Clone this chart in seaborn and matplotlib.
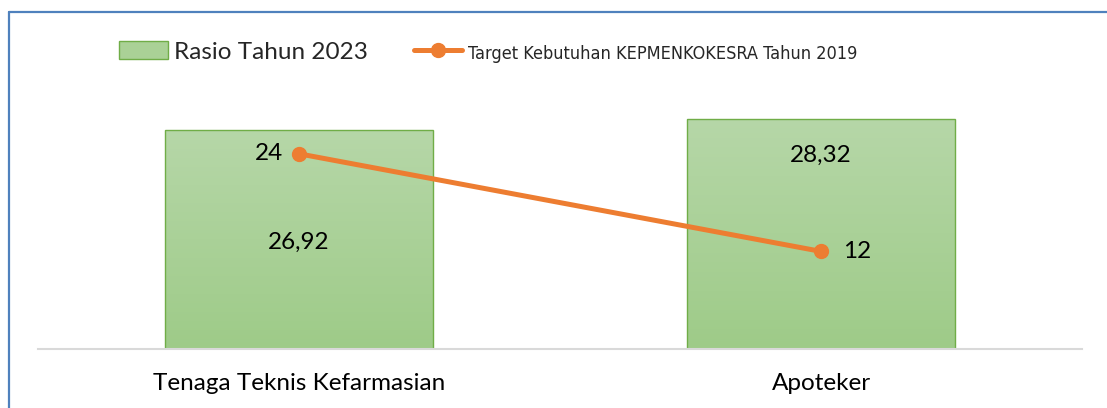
import numpy as np
import pandas as pd
import matplotlib
matplotlib.use("Agg")
import matplotlib.pyplot as plt
from matplotlib import font_manager
from matplotlib.patches import Patch
from matplotlib.lines import Line2D
import seaborn as sns

categories = ["Tenaga Teknis Kefarmasian", "Apoteker"]
rasio_2023 = [26.92, 28.32]
target_2019 = [24, 12]
series_bar = "Rasio Tahun 2023"
series_line = "Target Kebutuhan KEPMENKOKESRA Tahun 2019"

sns.set_theme(style="white")
plt.rcParams["font.family"] = ["Lato", "DejaVu Sans"]

FS = 17.5
ORANGE = "#ED7D31"
EDGE = "#70AD47"
TOP_C = np.array([0xB6, 0xD7, 0xA8]) / 255
BOT_C = np.array([0x9E, 0xCB, 0x88]) / 255

# find a condensed sans face if one exists
def _stretch_val(s):
    if isinstance(s, (int, float)):
        return s
    table = {"ultra-condensed": 100, "extra-condensed": 200, "condensed": 300,
             "semi-condensed": 400, "normal": 500}
    return table.get(str(s), 500)

narrow_prop = None
cands = [f for f in font_manager.fontManager.ttflist
         if _stretch_val(f.stretch) <= 400 and f.style == "normal"
         and ("Sans" in f.name or f.name in ("Roboto", "Open Sans", "Lato", "Inter"))
         and f.weight in (400, "normal", "regular", "book")]
cands.sort(key=lambda f: _stretch_val(f.stretch), reverse=True)
if cands:
    narrow_prop = font_manager.FontProperties(fname=cands[0].fname)

fig = plt.figure(figsize=(11.07, 4.08), dpi=100)
ax = fig.add_axes([38 / 1107, 59 / 408, (1082 - 38) / 1107, (349 - 105) / 408])

df = pd.DataFrame({"cat": categories, "val": rasio_2023})
sns.barplot(data=df, x="cat", y="val", ax=ax, color=BOT_C, width=0.512,
            edgecolor=EDGE, linewidth=1.0, saturation=1)
ax.set_xlim(-0.5, 1.5)
ax.set_ylim(0, 30)

# gradient fill
grad = np.linspace(0, 1, 256)[:, None, None]
img = TOP_C[None, None, :] * (1 - grad) + BOT_C[None, None, :] * grad
for p in list(ax.patches):
    x0, y0 = p.get_x(), p.get_y()
    w, h = p.get_width(), p.get_height()
    p.set_facecolor("none")
    im = ax.imshow(img, extent=[x0, x0 + w, y0, y0 + h], aspect="auto",
                   origin="upper", zorder=1.5)
    im.set_clip_path(p)
    p.set_zorder(2)

xs = np.arange(len(categories))
ax.plot(xs, target_2019, color=ORANGE, lw=3.6, marker="o", ms=10, zorder=4,
        solid_capstyle="round")

def fmt(v):
    s = f"{v:.2f}" if v != int(v) else f"{int(v)}"
    return s.replace(".", ",")

# bar labels
ax.text(xs[0], rasio_2023[0] / 2 - 0.3, fmt(rasio_2023[0]), ha="center", va="center", fontsize=FS, color="black", zorder=5)
ax.text(xs[1], rasio_2023[1] - 4.45, fmt(rasio_2023[1]), ha="center", va="center", fontsize=FS, color="black", zorder=5)
# line labels
ax.annotate(fmt(target_2019[0]), (xs[0], target_2019[0]), xytext=(-11.5, 0), textcoords="offset points",
            ha="right", va="center", fontsize=FS, color="black", zorder=5)
ax.annotate(fmt(target_2019[1]), (xs[1], target_2019[1]), xytext=(16, 0), textcoords="offset points",
            ha="left", va="center", fontsize=FS, color="black", zorder=5)

for s in ["top", "left", "right"]:
    ax.spines[s].set_visible(False)
ax.spines["bottom"].set_color("#D9D9D9")
ax.spines["bottom"].set_linewidth(1.5)
ax.set_yticks([])
ax.set_xlabel("")
ax.set_ylabel("")
ax.tick_params(axis="x", length=0, pad=17, labelsize=FS, colors="black")

handles = [Patch(facecolor="#AAD196", edgecolor=EDGE, linewidth=1.0),
           Line2D([0], [0], color=ORANGE, lw=3.6, marker="o", ms=10)]
leg = fig.legend(handles, [series_bar, series_line], ncol=2, frameon=False,
                 loc="center left", bbox_to_anchor=(119 / 1107, 1 - 52 / 408),
                 fontsize=FS, handlelength=2.0, handleheight=0.7, handletextpad=0.25,
                 columnspacing=1.9, borderpad=0, borderaxespad=0)
t2 = leg.get_texts()[1]
if narrow_prop is not None:
    t2.set_fontproperties(narrow_prop)
# fit the second legend label to the narrow width seen in the reference
renderer = fig.canvas.get_renderer()
target_w = 389.0
t2.set_fontsize(FS)
w = t2.get_window_extent(renderer).width
t2.set_fontsize(min(FS, FS * target_w / w))

# outer frame (blue border, cropped at right/bottom)
fig.add_artist(plt.Line2D([9 / 1107, 9 / 1107], [0, 1 - 12 / 408], transform=fig.transFigure,
                          color="#4F81BD", lw=1.6))
fig.add_artist(plt.Line2D([9 / 1107, 1], [1 - 12 / 408, 1 - 12 / 408], transform=fig.transFigure,
                          color="#4F81BD", lw=1.6))

fig.savefig("out.png", dpi=100, facecolor="white")
